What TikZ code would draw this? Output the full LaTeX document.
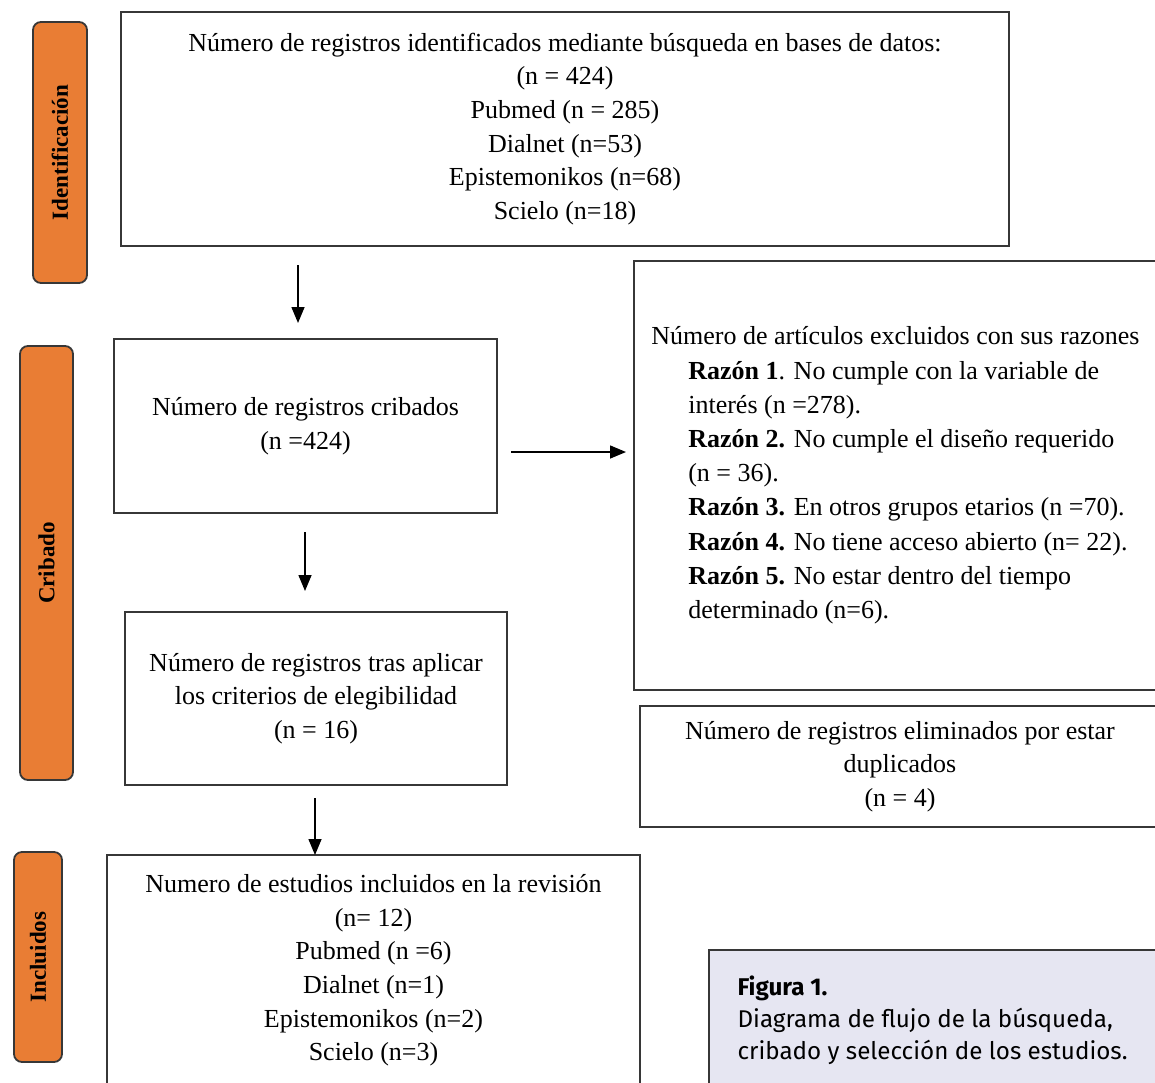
\documentclass[tikz,border=0pt]{standalone}
\usepackage[RGB]{xcolor}
\usepackage{fontspec}
\setmainfont{Liberation Serif}
\newfontfamily\leyenda{Fira Sans}
\usepackage{tikz}
\usetikzlibrary{arrows.meta}
\definecolor{naranja}{RGB}{233,125,52}
\definecolor{borde}{RGB}{55,55,55}
\definecolor{lila}{RGB}{230,230,242}
\newcommand{\cajatexto}[6]{\node[caja,minimum width={#4-#2},minimum height={#5-#3}] (#1) at ({(#2+#4)/2},{(#3+#5)/2}) {#6};}
\newcommand{\etapa}[6]{\node[fase,minimum width=#6,minimum height=#5] (#1) at (#3,#4) {#2};}
\newcommand{\sangria}{\hspace*{37pt}}
\tikzset{
  caja/.style={draw=borde,line width=1.8pt,align=center,inner sep=0pt,font=\fontsize{26}{33.6}\selectfont},
  fase/.style={draw=borde,fill=naranja,line width=1.8pt,rounded corners=8pt,rotate=90,inner sep=0pt,font=\fontsize{23}{23}\selectfont\bfseries},
  flecha/.style={-{Triangle[length=16pt,width=13pt]},line width=1.5pt}
}

\begin{document}
\begin{tikzpicture}[x=1pt,y=-1pt]
\useasboundingbox (0,0) rectangle (1155,1082);
% fases
\etapa{ident}{Identificación}{60}{152.5}{54}{261}
\etapa{crib}{Cribado}{46.5}{563}{53}{434}
\etapa{incl}{Incluidos}{38}{957}{48}{210}
% cajas del flujo
\cajatexto{busq}{121}{12}{1009}{246}{Número de registros identificados mediante búsqueda en bases de datos:\\(n = 424)\\Pubmed (n = 285)\\Dialnet (n=53)\\Epistemonikos (n=68)\\Scielo (n=18)}
\cajatexto{cribados}{114}{339}{497}{513}{Número de registros cribados\\(n =424)}
\cajatexto{elegib}{125}{612}{507}{785}{Número de registros tras aplicar\\los criterios de elegibilidad\\(n = 16)}
\cajatexto{inclu}{107}{855}{640}{1086}{Numero de estudios incluidos en la revisión\\(n= 12)\\Pubmed (n =6)\\Dialnet (n=1)\\Epistemonikos (n=2)\\Scielo (n=3)}
\cajatexto{dupl}{640}{706}{1160}{827}{Número de registros eliminados por estar\\duplicados\\(n = 4)}
\cajatexto{excl}{634}{261}{1162}{690}{}
\node[anchor=west,align=left,inner sep=0pt,font=\fontsize{26}{34.2}\selectfont] (razones) at ([xshift=18pt]excl.west) {Número de artículos excluidos con sus razones\\
\sangria\textbf{Razón 1}. No cumple con la variable de\\
\sangria interés (n =278).\\
\sangria\textbf{Razón 2.} No cumple el diseño requerido\\
\sangria(n = 36).\\
\sangria\textbf{Razón 3.} En otros grupos etarios (n =70).\\
\sangria\textbf{Razón 4.} No tiene acceso abierto (n= 22).\\
\sangria\textbf{Razón 5.} No estar dentro del tiempo\\
\sangria determinado (n=6).};
% leyenda
\node[draw=borde,fill=lila,line width=1.2pt,minimum width=456,minimum height=145,inner sep=0pt] (fig) at (937,1022.5) {};
\node[anchor=west,align=left,inner sep=0pt,font=\leyenda\fontsize{24.2}{32}\selectfont] (figtxt) at ([xshift=29pt,yshift=2pt]fig.west) {\textbf{Figura 1.}\\Diagrama de flujo de la búsqueda,\\cribado y selección de los estudios.};
% flechas
\coordinate (b1) at (298,265); \coordinate (b2) at (298,323);
\coordinate (c1) at (305,532); \coordinate (c2) at (305,591);
\coordinate (e1) at (315,798); \coordinate (e2) at (315,855);
\coordinate (x1) at (511,452); \coordinate (x2) at (626,452);
\draw[flecha] (b1) -- (b2);
\draw[flecha] (c1) -- (c2);
\draw[flecha] (e1) -- (e2);
\draw[flecha] (x1) -- (x2);
\end{tikzpicture}
\end{document}
